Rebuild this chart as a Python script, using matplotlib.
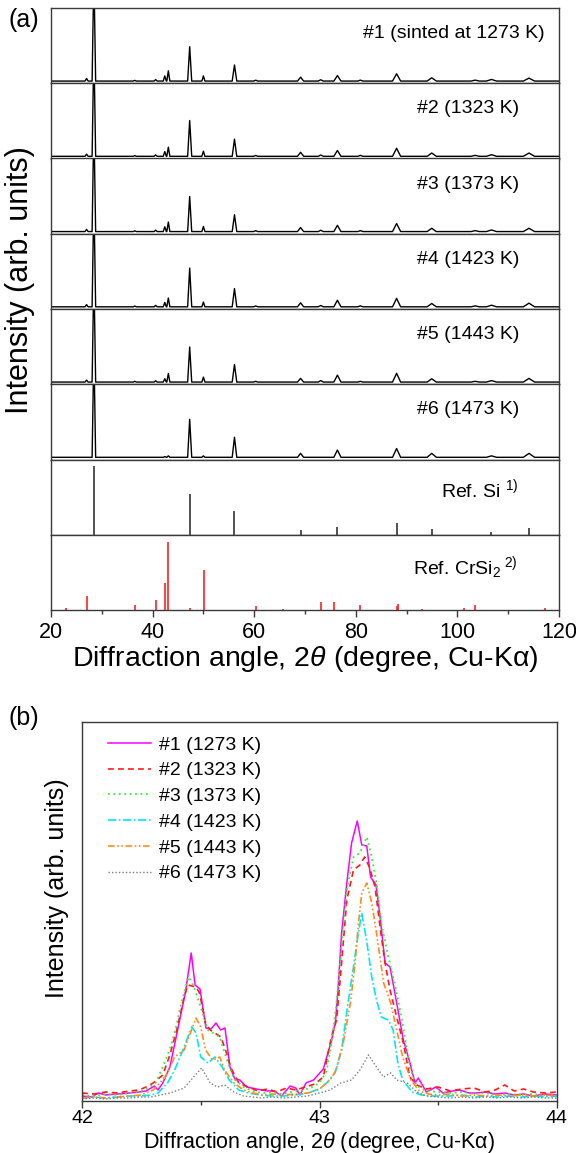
import numpy as np
import matplotlib
matplotlib.use("Agg")
import matplotlib.pyplot as plt
from matplotlib.ticker import MultipleLocator

plt.rcParams['font.family'] = ['Liberation Sans', 'DejaVu Sans']
plt.rcParams['mathtext.fontset'] = 'custom'
plt.rcParams['mathtext.rm'] = 'Liberation Sans'
plt.rcParams['mathtext.it'] = 'Liberation Sans:italic'
plt.rcParams['mathtext.default'] = 'regular'

# ---------------- (a) full patterns ----------------
# peak positions seen in the measured patterns (deg)
peak_pos = [27.0, 28.44, 36.5, 40.6, 42.4, 43.1, 47.3, 50.0, 56.12, 60.3,
            69.13, 73.1, 76.38, 80.9, 88.03, 94.95, 103.5, 106.71, 114.09]
peak_w = [0.3, 0.35, 0.3, 0.3, 0.3, 0.3, 0.4, 0.3, 0.45, 0.4,
          0.6, 0.5, 0.7, 0.5, 0.8, 0.9, 0.8, 1.0, 1.1]
# peak heights as fraction of a panel, read per sample
h1 = [0.036, 1.5, 0.01, 0.02, 0.07, 0.14, 0.47, 0.07, 0.22, 0.012,
      0.053, 0.018, 0.075, 0.013, 0.10, 0.045, 0.013, 0.022, 0.04]
h2 = [0.03, 1.5, 0.01, 0.02, 0.065, 0.126, 0.49, 0.07, 0.234, 0.012,
      0.055, 0.018, 0.08, 0.013, 0.11, 0.045, 0.013, 0.022, 0.045]
h3 = [0.03, 1.5, 0.01, 0.02, 0.065, 0.13, 0.48, 0.07, 0.23, 0.012,
      0.055, 0.018, 0.085, 0.013, 0.11, 0.045, 0.013, 0.022, 0.045]
h4 = [0.03, 1.5, 0.01, 0.02, 0.06, 0.12, 0.53, 0.065, 0.25, 0.012,
      0.055, 0.018, 0.09, 0.013, 0.115, 0.045, 0.013, 0.022, 0.05]
h5 = [0.027, 1.5, 0.01, 0.018, 0.045, 0.117, 0.48, 0.068, 0.24, 0.01,
      0.05, 0.02, 0.095, 0.01, 0.12, 0.045, 0.01, 0.02, 0.05]
h6 = [0.0, 1.5, 0.0, 0.0, 0.01, 0.02, 0.52, 0.02, 0.275, 0.0,
      0.054, 0.0, 0.10, 0.0, 0.12, 0.054, 0.0, 0.02, 0.054]
sample_heights = [h1, h2, h3, h4, h5, h6]
sample_labels = ["#1 (sinted at 1273 K)", "#2 (1323 K)", "#3 (1373 K)",
                 "#4 (1423 K)", "#5 (1443 K)", "#6 (1473 K)"]

si_pos = [28.44, 47.30, 56.12, 69.13, 76.38, 88.03, 94.95, 106.71, 114.09]
si_int = [100, 60, 34, 7, 12, 17, 8, 4, 10]

crsi2_pos = [23.05, 27.0, 36.5, 40.6, 42.4, 43.1, 47.4, 50.1, 60.3, 65.6,
             73.1, 75.8, 80.9, 88.2, 88.4, 93.1, 101.3, 103.5, 117.3]
crsi2_int = [2.5, 21, 8, 15, 39, 100, 2.5, 58, 6, 1,
             12, 11, 8, 6, 9, 2, 3.5, 8, 2.5]

# ---------------- (b) zoom 42-44 deg ----------------
s1 = [(42.00, 5), (42.04, 4), (42.07, 8), (42.10, 6), (42.15, 7), (42.20, 8), (42.24, 9),
      (42.27, 10), (42.305, 15), (42.32, 11), (42.34, 18), (42.37, 34), (42.40, 68),
      (42.42, 91), (42.435, 108), (42.46, 148), (42.476, 116), (42.497, 112), (42.522, 73),
      (42.543, 72), (42.564, 78), (42.584, 71), (42.602, 73), (42.623, 34), (42.644, 22),
      (42.665, 21), (42.693, 14), (42.735, 12), (42.78, 10), (42.81, 10), (42.84, 5),
      (42.876, 15), (42.90, 13), (42.918, 6), (42.943, 18), (42.975, 21), (43.016, 32),
      (43.051, 61), (43.068, 81), (43.078, 111), (43.093, 168), (43.115, 218), (43.135, 258),
      (43.159, 280), (43.178, 256), (43.199, 255), (43.215, 224), (43.238, 216), (43.255, 184),
      (43.276, 138), (43.297, 134), (43.325, 98), (43.353, 61), (43.381, 38), (43.402, 18),
      (43.416, 23), (43.45, 9), (43.49, 14), (43.52, 8), (43.56, 10), (43.59, 11), (43.63, 8),
      (43.66, 8), (43.70, 9), (43.74, 7), (43.78, 8), (43.82, 6), (43.86, 7), (43.90, 5),
      (43.95, 7), (44.00, 6)]
s2 = [(42.00, 8), (42.05, 7), (42.10, 9), (42.15, 8), (42.20, 10), (42.24, 11), (42.27, 14),
      (42.30, 18), (42.34, 26), (42.37, 46), (42.40, 72), (42.43, 104), (42.446, 116),
      (42.48, 114), (42.495, 108), (42.52, 78), (42.54, 71), (42.585, 64), (42.61, 47),
      (42.625, 34), (42.66, 18), (42.70, 14), (42.74, 10), (42.78, 12), (42.82, 9), (42.86, 13),
      (42.90, 11), (42.94, 14), (42.98, 17), (43.016, 24), (43.05, 64), (43.072, 81),
      (43.093, 138), (43.115, 201), (43.143, 231), (43.17, 236), (43.19, 244), (43.21, 234),
      (43.234, 214), (43.255, 174), (43.276, 138), (43.297, 111), (43.325, 84), (43.353, 58),
      (43.38, 24), (43.41, 16), (43.45, 12), (43.50, 14), (43.55, 10), (43.60, 12), (43.65, 13),
      (43.70, 9), (43.74, 11), (43.78, 16), (43.82, 10), (43.86, 12), (43.90, 9), (43.95, 8),
      (44.00, 9)]
s3 = [(42.00, 6), (42.05, 5), (42.10, 7), (42.15, 6), (42.20, 8), (42.25, 10), (42.28, 13),
      (42.31, 18), (42.34, 34), (42.37, 52), (42.39, 68), (42.42, 100), (42.449, 124),
      (42.47, 115), (42.49, 101), (42.53, 71), (42.58, 64), (42.61, 41), (42.64, 22),
      (42.68, 14), (42.72, 10), (42.76, 8), (42.80, 9), (42.84, 7), (42.88, 9), (42.92, 10),
      (42.96, 13), (43.00, 18), (43.03, 30), (43.05, 58), (43.07, 94), (43.093, 154),
      (43.115, 211), (43.143, 244), (43.17, 248), (43.199, 264), (43.22, 244), (43.24, 218),
      (43.26, 178), (43.29, 144), (43.32, 114), (43.35, 78), (43.38, 34), (43.41, 15),
      (43.45, 10), (43.50, 9), (43.55, 8), (43.60, 9), (43.65, 7), (43.70, 8), (43.75, 6),
      (43.80, 7), (43.85, 6), (43.90, 7), (43.95, 5), (44.00, 6)]
s4 = [(42.00, 3), (42.05, 4), (42.10, 3), (42.15, 4), (42.20, 5), (42.25, 5), (42.29, 6),
      (42.32, 8), (42.36, 18), (42.39, 31), (42.43, 54), (42.462, 74), (42.48, 68),
      (42.50, 44), (42.53, 38), (42.56, 44), (42.59, 34), (42.62, 21), (42.66, 11), (42.70, 8),
      (42.75, 6), (42.80, 5), (42.85, 5), (42.90, 6), (42.95, 8), (43.00, 12), (43.03, 18),
      (43.065, 28), (43.093, 51), (43.12, 98), (43.143, 134), (43.157, 158), (43.178, 188),
      (43.20, 158), (43.22, 124), (43.24, 101), (43.26, 84), (43.29, 81), (43.31, 71),
      (43.33, 38), (43.35, 21), (43.39, 9), (43.43, 6), (43.48, 5), (43.55, 5), (43.60, 6),
      (43.65, 4), (43.70, 5), (43.75, 4), (43.80, 5), (43.85, 4), (43.90, 5), (43.95, 4),
      (44.00, 5)]
s5 = [(42.00, 3), (42.05, 4), (42.10, 3), (42.15, 4), (42.20, 5), (42.25, 6), (42.30, 11),
      (42.35, 24), (42.39, 44), (42.43, 51), (42.45, 64), (42.48, 83), (42.50, 74),
      (42.52, 51), (42.55, 41), (42.58, 44), (42.60, 31), (42.64, 18), (42.68, 11), (42.72, 8),
      (42.76, 6), (42.80, 7), (42.85, 6), (42.90, 7), (42.95, 8), (43.00, 12), (43.045, 21),
      (43.07, 31), (43.10, 58), (43.13, 98), (43.15, 138), (43.164, 178), (43.178, 208),
      (43.199, 218), (43.22, 198), (43.24, 168), (43.27, 118), (43.30, 98), (43.325, 71),
      (43.35, 44), (43.385, 21), (43.42, 10), (43.46, 7), (43.50, 6), (43.55, 7), (43.60, 5),
      (43.65, 6), (43.70, 5), (43.75, 6), (43.80, 5), (43.85, 6), (43.90, 5), (43.95, 6),
      (44.00, 5)]
s6 = [(42.00, 2), (42.05, 3), (42.10, 2), (42.15, 3), (42.20, 3), (42.25, 4), (42.29, 4),
      (42.33, 6), (42.37, 8), (42.43, 13), (42.47, 24), (42.504, 33), (42.54, 18),
      (42.57, 14), (42.60, 16), (42.64, 9), (42.68, 5), (42.72, 4), (42.76, 3), (42.80, 4),
      (42.85, 3), (42.90, 4), (42.95, 5), (43.00, 8), (43.045, 11), (43.09, 18), (43.135, 21),
      (43.17, 31), (43.206, 46), (43.24, 34), (43.27, 24), (43.30, 28), (43.325, 21),
      (43.37, 18), (43.41, 9), (43.45, 5), (43.50, 4), (43.55, 3), (43.60, 4), (43.65, 3),
      (43.70, 4), (43.75, 3), (43.80, 4), (43.85, 3), (43.90, 4), (43.95, 3), (44.00, 3)]
zoom_series = [s1, s2, s3, s4, s5, s6]
zoom_labels = ["#1 (1273 K)", "#2 (1323 K)", "#3 (1373 K)",
               "#4 (1423 K)", "#5 (1443 K)", "#6 (1473 K)"]

W, H = 576, 1153
fig = plt.figure(figsize=(W / 100, H / 100), dpi=100)


def rect(l, t, r, b):
    return [l / W, 1 - b / H, (r - l) / W, (b - t) / H]


def pattern(heights):
    xs, ys = [20], [0]
    for p, h, w in zip(peak_pos, heights, peak_w):
        xs += [p - w, p, p + w]
        ys += [0, h, 0]
    xs.append(120)
    ys.append(0)
    return xs, ys


spine_c = '#3a3a3a'
left, right, top, ph = 51, 559, 8, 75.25
axes_a = []
for i in range(8):
    ax = fig.add_axes(rect(left, top + i * ph, right, top + (i + 1) * ph))
    ax.set_xlim(20, 120)
    for s in ax.spines.values():
        s.set_color(spine_c)
        s.set_linewidth(1.0)
    ax.set_yticks([])
    axes_a.append(ax)

for i, hs in enumerate(sample_heights):
    ax = axes_a[i]
    xs, ys = pattern(hs)
    ax.plot(xs, ys, color='black', lw=1.0)
    ax.set_ylim(-0.03, 1.0)
    xr = ((545 if i == 0 else 519) - left) / (right - left)
    ax.text(xr, 0.66, sample_labels[i], transform=ax.transAxes,
            fontsize=14, ha='right', va='center')

xr = (518 - left) / (right - left)
ax = axes_a[6]
ax.vlines(si_pos, 0, si_int, color='#222222', lw=1.1)
ax.set_ylim(0, 110)
ax.text(xr, 0.6, r"Ref. Si $^{1)}$", transform=ax.transAxes, fontsize=14,
        ha='right', va='center')

ax = axes_a[7]
ax.vlines(crsi2_pos, 0, crsi2_int, color='#ff2020', lw=1.2)
ax.set_ylim(0, 110)
ax.text(xr, 0.57, r"Ref. CrSi$_2$$^{\ 2)}$", transform=ax.transAxes, fontsize=14,
        ha='right', va='center')

for i, ax in enumerate(axes_a):
    if i < 7:
        ax.set_xticks([])
    else:
        ax.xaxis.set_major_locator(MultipleLocator(20))
        ax.xaxis.set_minor_locator(MultipleLocator(10))
        ax.tick_params(axis='x', which='major', direction='out', length=5, width=1,
                       labelsize=15.5, pad=4, color=spine_c)
        ax.tick_params(axis='x', which='minor', direction='out', length=3, width=1,
                       color=spine_c)

xlab = r"Diffraction angle, 2$\it{\theta}$ (degree, Cu-K$\alpha$)"
fig.text(305 / W, 1 - 666 / H, xlab, fontsize=20.5, ha='center', va='baseline')
fig.text(20 / W, 1 - 280 / H, "Intensity (arb. units)", rotation=90, fontsize=22,
         ha='center', va='center')
fig.text(8 / W, 1 - 20 / H, "(a)", fontsize=18, ha='left', va='center')

# ---------------- panel (b) ----------------
axb = fig.add_axes(rect(82, 722, 557, 1101))
styles = [
    dict(color='#ff00ff', ls='-', lw=1.1),
    dict(color='#ff1a1a', ls=(0, (3.5, 2.5)), lw=1.2),
    dict(color='#33ee33', ls=(0, (1, 2)), lw=1.3),
    dict(color='#00e8f0', ls=(0, (5, 1.5, 1, 1.5)), lw=1.2),
    dict(color='#ff8c1a', ls=(0, (4, 1.5, 1, 1.5, 1, 1.5)), lw=1.2),
    dict(color='#7a7a7a', ls=(0, (1, 1.5)), lw=1.0),
]
for s, lab, st in zip(zoom_series, zoom_labels, styles):
    xy = np.array(s)
    axb.plot(xy[:, 0], xy[:, 1], label=lab, **st)
axb.set_xlim(42, 44)
axb.set_ylim(0, 379)
axb.set_yticks([])
axb.xaxis.set_major_locator(MultipleLocator(1))
axb.xaxis.set_minor_locator(MultipleLocator(0.5))
axb.tick_params(axis='x', which='major', direction='out', length=5, width=1,
                labelsize=14, pad=1.5, color=spine_c)
axb.tick_params(axis='x', which='minor', direction='out', length=3, width=1,
                color=spine_c)
for s in axb.spines.values():
    s.set_color(spine_c)
    s.set_linewidth(1.0)
fig.text(319 / W, 1 - 1148 / H, xlab, fontsize=15.5, ha='center', va='baseline')
leg = axb.legend(loc='upper left', bbox_to_anchor=((108 - 82) / 475, (1101 - 736) / 379),
                 frameon=False, fontsize=14, handlelength=2.2, handletextpad=0.4,
                 labelspacing=0.42, borderaxespad=0, borderpad=0)
fig.text(57 / W, 1 - 888 / H, "Intensity (arb. units)", rotation=90, fontsize=18,
         ha='center', va='center')
fig.text(8 / W, 1 - 718 / H, "(b)", fontsize=18, ha='left', va='center')

fig.savefig("out.png", dpi=100)
